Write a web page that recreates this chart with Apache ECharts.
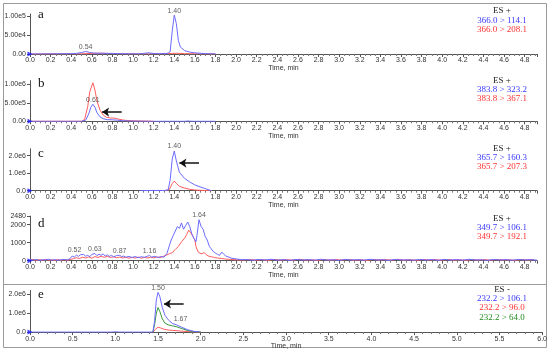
<!DOCTYPE html>
<html><head><meta charset="utf-8">
<script src="https://cdn.jsdelivr.net/npm/echarts/dist/echarts.min.js"></script>
<style>html,body{margin:0;padding:0;background:#fff}#c{width:550px;height:351px}</style>
</head><body><div id="c"></div>
<script>
// ---------- DATA ----------
const blueA = [[0,0],[0.2,500],[0.4,800],[0.45,1500],[0.5,4000],[0.54,6500],[0.58,4000],[0.62,2500],[0.7,2000],[0.8,1500],[0.9,800],[1.0,500],[1.05,300],[1.1,1500],[1.15,3000],[1.2,1500],[1.25,800],[1.3,1200],[1.34,2000],[1.36,6000],[1.38,60000],[1.40,102000],[1.42,80000],[1.44,35000],[1.46,18000],[1.5,9000],[1.55,5000],[1.6,3000],[1.7,1000],[1.8,300]];
const redA = [[0,0],[0.5,500],[0.6,1500],[0.7,2000],[0.8,1000],[1.0,300],[1.3,500],[1.38,1500],[1.42,2000],[1.5,1000],[1.6,500],[1.8,0]];
const peaksA = [[0.54,6500,'0.54'],[1.40,102000,'1.40']];

const blueB = [[0,0],[0.5,0],[0.54,30000],[0.57,200000],[0.59,380000],[0.61,460000],[0.63,380000],[0.65,230000],[0.68,120000],[0.71,70000],[0.75,45000],[0.8,40000],[0.85,30000],[0.9,15000],[1.0,5000],[1.2,0],[1.5,0],[1.53,8000],[1.58,0],[1.8,0]];
const redB = [[0,0],[0.5,0],[0.53,50000],[0.56,400000],[0.58,800000],[0.61,1040000],[0.63,850000],[0.65,550000],[0.68,300000],[0.71,170000],[0.74,110000],[0.78,90000],[0.82,85000],[0.86,60000],[0.9,35000],[0.95,20000],[1.0,12000],[1.1,6000],[1.2,0]];
const peaksB = [[0.61,460000,'0.61']];
const arrowB = [0.89, 0.70, 250000];

const blueC = [[1.07,0],[1.2,15000],[1.3,10000],[1.34,40000],[1.36,600000],[1.38,1800000],[1.40,2270000],[1.42,1700000],[1.45,1050000],[1.5,700000],[1.55,500000],[1.6,330000],[1.65,220000],[1.7,120000],[1.76,0]];
const redC = [[1.3,0],[1.35,50000],[1.38,400000],[1.40,550000],[1.42,420000],[1.45,250000],[1.5,150000],[1.55,80000],[1.6,40000],[1.7,10000],[1.76,0]];
const peaksC = [[1.40,2270000,'1.40']];
const arrowC = [1.64, 1.45, 1580000];

const blueD = [[0,60],[0.03,30],[0.06,70],[0.09,20],[0.12,50],[0.15,40],[0.18,80],[0.21,30],[0.24,60],[0.27,20],[0.30,50],[0.33,70],[0.36,40],[0.39,120],[0.41,260],[0.43,200],[0.45,310],[0.47,240],[0.49,330],[0.52,350],[0.54,250],[0.56,300],[0.58,220],[0.60,350],[0.63,400],[0.65,280],[0.67,360],[0.69,300],[0.71,380],[0.73,260],[0.75,330],[0.77,240],[0.79,300],[0.81,220],[0.84,280],[0.87,300],[0.89,230],[0.91,260],[0.93,190],[0.96,240],[0.99,180],[1.02,230],[1.05,170],[1.08,220],[1.11,190],[1.14,250],[1.16,290],[1.18,200],[1.21,240],[1.24,180],[1.27,230],[1.30,200],[1.33,420],[1.35,800],[1.37,1150],[1.39,1400],[1.41,1650],[1.43,1900],[1.45,1800],[1.47,2100],[1.49,1750],[1.51,1950],[1.53,2150],[1.55,1900],[1.57,1500],[1.59,1250],[1.61,1050],[1.62,1400],[1.64,2280],[1.66,1900],[1.68,1750],[1.70,1350],[1.72,1150],[1.74,800],[1.76,650],[1.78,500],[1.80,420],[1.82,350],[1.84,300],[1.86,480],[1.88,360],[1.90,260],[1.93,200],[1.96,130],[2.0,100],[2.05,60],[2.1,60],[2.16,30],[2.22,70],[2.28,40],[2.34,80],[2.4,30],[2.46,60],[2.52,20],[2.58,70],[2.64,40],[2.7,60],[2.76,30],[2.82,80],[2.88,40],[2.94,50],[3.0,20],[3.06,70],[3.12,40],[3.18,60],[3.24,30],[3.3,80],[3.36,40],[3.42,60],[3.48,20],[3.54,70],[3.6,40],[3.66,50],[3.72,30],[3.78,70],[3.84,40],[3.9,60],[3.96,20],[4.02,70],[4.08,40],[4.14,60],[4.2,30],[4.26,80],[4.32,40],[4.38,50],[4.44,20],[4.5,70],[4.56,40],[4.62,60],[4.68,30],[4.74,70],[4.8,40],[4.86,60],[4.92,30]];
const redD = [[0,40],[0.03,70],[0.06,20],[0.09,60],[0.12,30],[0.15,70],[0.18,30],[0.21,50],[0.24,20],[0.27,60],[0.30,30],[0.33,50],[0.36,30],[0.39,60],[0.42,110],[0.45,170],[0.48,120],[0.51,200],[0.54,150],[0.57,210],[0.60,140],[0.63,230],[0.66,180],[0.69,250],[0.72,190],[0.75,240],[0.78,180],[0.81,220],[0.84,160],[0.87,200],[0.90,150],[0.93,190],[0.96,140],[0.99,180],[1.02,150],[1.05,200],[1.08,140],[1.11,180],[1.14,150],[1.17,190],[1.20,160],[1.23,210],[1.26,170],[1.29,230],[1.32,300],[1.35,380],[1.38,450],[1.41,620],[1.44,800],[1.47,1050],[1.50,1250],[1.52,1450],[1.54,1700],[1.56,1550],[1.58,1350],[1.60,1150],[1.61,800],[1.63,500],[1.65,420],[1.67,380],[1.69,460],[1.71,330],[1.73,260],[1.76,220],[1.79,180],[1.82,150],[1.86,120],[1.90,90],[1.95,70],[2.0,50],[2.05,40],[2.13,70],[2.19,30],[2.25,60],[2.31,20],[2.37,70],[2.43,40],[2.49,60],[2.55,30],[2.61,80],[2.67,40],[2.73,50],[2.79,20],[2.85,70],[2.91,30],[2.97,60],[3.03,40],[3.09,70],[3.15,30],[3.21,50],[3.27,20],[3.33,70],[3.39,40],[3.45,60],[3.51,30],[3.57,80],[3.63,30],[3.69,60],[3.75,20],[3.81,70],[3.87,40],[3.93,60],[3.99,30],[4.05,70],[4.11,30],[4.17,50],[4.23,20],[4.29,70],[4.35,40],[4.41,60],[4.47,30],[4.53,70],[4.59,40],[4.65,50],[4.71,20],[4.77,70],[4.83,40],[4.89,60]];
const peaksD = [[0.52,350,'0.52'],[0.63,400,'0.63'],[0.87,300,'0.87'],[1.16,290,'1.16'],[1.64,2280,'1.64']];

const blueE = [[0,0],[0.95,0],[1.0,15000],[1.05,0],[1.44,0],[1.46,600000],[1.48,1700000],[1.50,2100000],[1.52,1900000],[1.55,1300000],[1.58,900000],[1.62,650000],[1.67,450000],[1.72,380000],[1.78,250000],[1.85,120000],[1.92,40000],[2.0,0]];
const redE = [[1.44,0],[1.47,150000],[1.50,260000],[1.53,220000],[1.57,150000],[1.62,110000],[1.7,80000],[1.78,50000],[1.85,25000],[1.95,5000],[2.0,0]];
const greenE = [[1.44,0],[1.46,400000],[1.48,1000000],[1.50,1300000],[1.52,1100000],[1.55,700000],[1.58,480000],[1.62,380000],[1.67,330000],[1.72,280000],[1.78,180000],[1.85,80000],[1.92,20000],[2.0,0]];
const peaksE = [[1.50,2100000,'1.50'],[1.67,450000,'1.67']];
const arrowE = [1.80, 1.57, 1490000];

const originMark = [[0,0]];
const letters = ['a','b','c','d','e'];
const modes = [['ES +','366.0 > 114.1','366.0 > 208.1'],['ES +','383.8 > 323.2','383.8 > 367.1'],['ES +','365.7 > 160.3','365.7 > 207.3'],['ES +','349.7 > 106.1','349.7 > 192.1'],['ES -','232.2 > 106.1','232.2 > 96.0','232.2 > 64.0']];

// ---------- STYLE / LAYOUT ----------
const BLUE='#6b6bff', RED='#ff5c5c', GREEN='#3a9a3a';
const TBLUE='#3838ff', TRED='#ff3030', TGREEN='#208a20';
const fmt2 = v => v===0?'0.00':v.toExponential(2).replace('e+','e');
const fmt1 = v => v===0?'0.0':v.toExponential(1).replace('e+','e');
const fmtI = v => String(v);
const panels = [
  {top:14, bot:54, w:507, ymax:1.05e5, yint:5e4, yf:fmt2, xmax:4.92, xint:0.2, minor:4, gap:10, showMax:false, xMaxLab:false,
   lines:[[redA,RED],[blueA,BLUE]], peaks:peaksA, arrow:null, shifts:{}},
  {top:80.6, bot:121.3, w:507, ymax:1.1e6, yint:5e5, yf:fmt2, xmax:4.92, xint:0.2, minor:4, gap:10, showMax:false, xMaxLab:false,
   lines:[[redB,RED],[blueB,BLUE]], peaks:peaksB, arrow:arrowB, shifts:{}},
  {top:148.7, bot:190.7, w:507, ymax:2.4e6, yint:1e6, yf:fmt1, xmax:4.92, xint:0.2, minor:4, gap:10, showMax:false, xMaxLab:false,
   lines:[[redC,RED],[blueC,BLUE]], peaks:peaksC, arrow:arrowC, shifts:{}},
  {top:216.1, bot:260.7, w:507, ymax:2480, yint:1000, yf:fmtI, xmax:4.92, xint:0.2, minor:4, gap:10, showMax:true, xMaxLab:false,
   lines:[[redD,RED],[blueD,BLUE]], peaks:peaksD, arrow:null, shifts:{'0.52':[-9,0]}},
  {top:290.5, bot:332.3, w:513, ymax:2.2e6, yint:1e6, yf:fmt1, xmax:6, xint:0.5, minor:5, gap:9, showMax:false, xMaxLab:true,
   lines:[[redE,RED],[greenE,GREEN],[blueE,BLUE]], peaks:peaksE, arrow:arrowE, shifts:{'1.67':[8,0]}}
];
const letterY = [16, 85, 155, 225, 296];
const annY = [[11,21,30],[81,90,99],[149,158,167],[219,228,237],[290,299,308,318]];
const annColors = ['#222', TBLUE, TRED, TGREEN];

const grid=[], xAxis=[], yAxis=[], series=[], graphic=[];
const lab = {fontSize:7, color:'#333', fontFamily:'Liberation Sans, Arial, sans-serif'};
panels.forEach((p,i)=>{
  grid.push({left:30, top:p.top, width:p.w, height:p.bot-p.top});
  xAxis.push({type:'value', gridIndex:i, min:0, max:p.xmax, interval:p.xint,
    axisLine:{show:true, onZero:false, lineStyle:{color:'#555', width:1}},
    axisTick:{show:true, inside:false, length:3, lineStyle:{color:'#555'}},
    minorTick:{show:true, splitNumber:p.minor, length:2, lineStyle:{color:'#777'}},
    splitLine:{show:false},
    axisLabel:Object.assign({margin:3, showMaxLabel:p.xMaxLab, formatter:v=>v.toFixed(1)}, lab),
    name:'Time, min', nameLocation:'middle', nameGap:p.gap, nameTextStyle:Object.assign({verticalAlign:'top'}, lab)});
  yAxis.push({type:'value', gridIndex:i, min:0, max:p.ymax, interval:p.yint,
    axisLine:{show:true, lineStyle:{color:'#555', width:1}},
    axisTick:{show:true, inside:false, length:3, lineStyle:{color:'#555'}},
    splitLine:{show:false},
    axisLabel:Object.assign({margin:4, showMaxLabel:p.showMax, formatter:p.yf}, lab)});
  p.lines.forEach(([d,c],k)=>{
    const s = {type:'line', xAxisIndex:i, yAxisIndex:i, data:d, symbol:'none', smooth:false,
      lineStyle:{color:c, width:1}, itemStyle:{color:c}, z:2+k, silent:true};
    if (k===p.lines.length-1 && p.arrow){
      s.markLine = {silent:true, symbol:['none','arrow'], symbolSize:7, label:{show:false},
        lineStyle:{color:'#111', width:1.5, type:'solid'}, itemStyle:{color:'#111'},
        data:[[{coord:[p.arrow[0],p.arrow[2]]},{coord:[p.arrow[1],p.arrow[2]]}]]};
    }
    series.push(s);
  });
  series.push({type:'scatter', xAxisIndex:i, yAxisIndex:i, symbolSize:0, silent:true, z:10,
    data:p.peaks.map(q=>({value:[q[0],q[1]], label:{offset:p.shifts[q[2]]||[0,0]}})),
    label:Object.assign({show:true, position:'top', distance:1, formatter:o=>p.peaks[o.dataIndex][2]}, lab)});
  series.push({type:'scatter', xAxisIndex:i, yAxisIndex:i, data:originMark, symbol:'triangle', symbolRotate:-90,
    symbolSize:5, itemStyle:{color:'#1a1aff'}, silent:true, z:11});
  graphic.push({type:'text', left:38, top:letterY[i]-8, style:{text:letters[i], font:'13px "Liberation Serif", serif', fill:'#111'}});
  modes[i].forEach((t,j)=>{
    graphic.push({type:'text', x:502, y:annY[i][j], style:{text:t, font:'9px "Liberation Serif", serif', fill:annColors[j], align:'center', verticalAlign:'middle'}});
  });
});
graphic.push({type:'rect', shape:{x:3.5,y:3.5,width:543,height:344}, style:{fill:'none', stroke:'#9a9a9a', lineWidth:1}, z:-1});
graphic.push({type:'line', shape:{x1:3.5,y1:284.5,x2:546.5,y2:284.5}, style:{stroke:'#9a9a9a', lineWidth:1}, z:-1});

const chart = echarts.init(document.getElementById('c'), null, {renderer:'canvas'});
chart.setOption({animation:false, backgroundColor:'#fff', grid, xAxis, yAxis, series, graphic});
</script></body></html>
